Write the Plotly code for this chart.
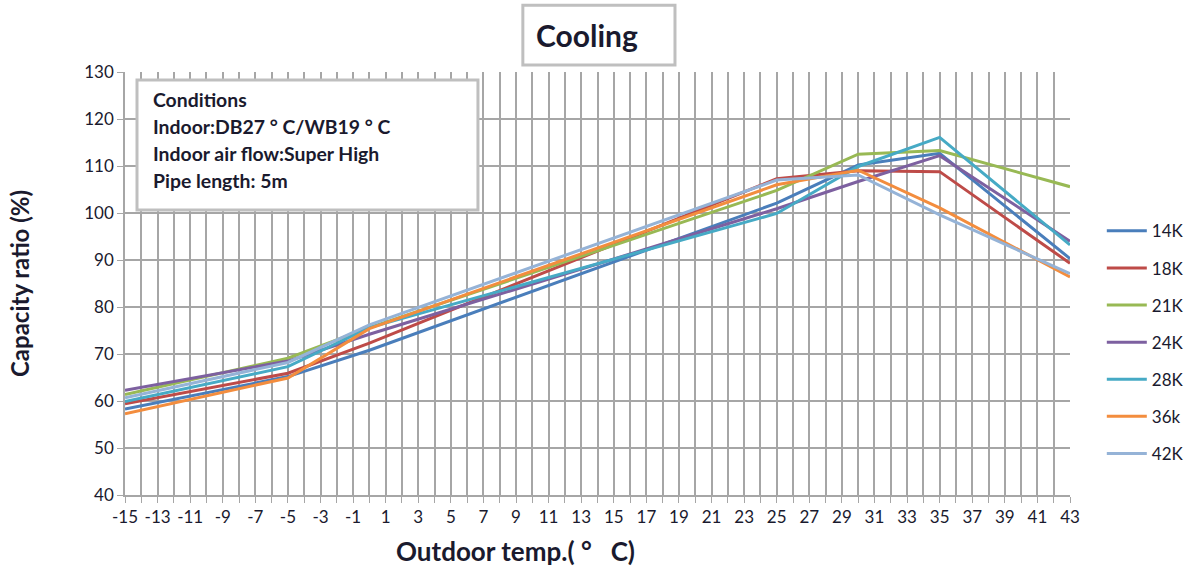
import plotly.graph_objects as go

# outdoor temperature points (deg C)
temps = [-15, -5, 0, 25, 30, 35, 43]

# capacity ratio (%) per model
cap_14k = [58.3, 65.2, 70.8, 102.1, 110.2, 112.7, 90.3]
cap_18k = [59.4, 65.9, 72.3, 107.3, 109.0, 108.8, 89.3]
cap_21k = [61.4, 69.1, 75.6, 104.8, 112.5, 113.3, 105.6]
cap_24k = [62.3, 68.5, 74.2, 100.9, 106.7, 112.2, 94.0]
cap_28k = [59.9, 67.3, 75.6, 99.9, 109.9, 116.1, 93.2]
cap_36k = [57.3, 64.9, 75.4, 106.0, 109.1, 101.1, 86.4]
cap_42k = [60.7, 68.2, 76.2, 107.0, 108.1, 99.6, 87.1]

series = [
    ("14K", cap_14k, "#4A7EBB"),
    ("18K", cap_18k, "#BE4B48"),
    ("21K", cap_21k, "#98B954"),
    ("24K", cap_24k, "#7D60A0"),
    ("28K", cap_28k, "#46AAC5"),
    ("36k", cap_36k, "#F38D3E"),
    ("42K", cap_42k, "#95B3D7"),
]

# x tick labels (plain hyphen minus like the original)
x_ticks = list(range(-15, 44, 2))
x_labels = [str(t) for t in x_ticks]

condition_lines = [
    "Conditions",
    "Indoor:DB27 \u00b0 C/WB19 \u00b0 C",
    "Indoor air flow:Super High",
    "Pipe length: 5m",
]

FONT = "Lato, Open Sans, sans-serif"
GRID = "#a6a6a6"
BOX = "#bfbfbf"
TXT = "#1a1a2e"
NB = "\u00a0"

fig = go.Figure()
for i, (name, vals, color) in enumerate(series):
    fig.add_trace(go.Scatter(
        x=temps, y=vals, name=name, mode="lines",
        line=dict(color=color, width=3),
        legendgroup=f"g{i}",
    ))

fig.update_layout(
    width=1190, height=568,
    margin=dict(l=125, r=120, t=72, b=73),
    paper_bgcolor="white",
    plot_bgcolor="white",
    font=dict(family=FONT, color=TXT, size=17),
    showlegend=True,
    legend=dict(
        xref="container", x=0.999, y=0.666, xanchor="right", yanchor="top",
        traceorder="grouped", tracegroupgap=12,
        font=dict(size=17, color=TXT),
        itemwidth=40,
    ),
    xaxis=dict(
        range=[-15, 43], tickvals=x_ticks, ticktext=x_labels,
        showgrid=True, gridcolor=GRID, gridwidth=1.5,
        ticks="outside", ticklen=6, tickcolor=GRID,
        showline=True, linecolor=GRID, linewidth=1.5,
        zeroline=False,
        minor=dict(dtick=1, tick0=-15, showgrid=True, gridcolor=GRID, gridwidth=1.5,
                   ticks="outside", ticklen=6, tickcolor=GRID),
        tickfont=dict(size=17),
    ),
    yaxis=dict(
        range=[40, 130], dtick=10,
        showgrid=True, gridcolor=GRID, gridwidth=1.5,
        ticks="outside", ticklen=6, tickcolor=GRID,
        showline=True, linecolor=GRID, linewidth=1.5,
        zeroline=False,
        tickfont=dict(size=17),
        title=dict(text="<b>Capacity ratio (%)</b>", font=dict(size=24), standoff=48),
    ),
)

# x axis title, placed left of centre as in the original
fig.add_annotation(
    text=f"<b>Outdoor temp.({NB}\u00b0{NB}{NB}{NB}C)</b>", xref="paper", yref="paper",
    x=0.413, y=-0.132, xanchor="center", yanchor="middle",
    showarrow=False, font=dict(size=26, color=TXT),
)

# title box
fig.add_shape(
    type="rect", xref="paper", yref="paper",
    x0=0.421, x1=0.582, y0=1.0165, y1=1.158,
    line=dict(color=BOX, width=3), fillcolor="white",
)
fig.add_annotation(
    text="<b>Cooling</b>", xref="paper", yref="paper",
    x=0.489, y=1.0875, xanchor="center", yanchor="middle",
    showarrow=False, font=dict(size=30, color=TXT),
)

# conditions box
fig.add_shape(
    type="rect", xref="paper", yref="paper",
    x0=0.0127, x1=0.3735, y0=0.674, y1=0.981,
    line=dict(color=BOX, width=3), fillcolor="white", layer="above",
)
for k, txt in enumerate(condition_lines):
    fig.add_annotation(
        text=f"<b>{txt}</b>", xref="paper", yref="paper",
        x=0.027, y=0.934 - k * 0.0638, xanchor="left", yanchor="middle",
        showarrow=False, font=dict(size=19.4, color=TXT),
    )

fig.write_html(
    "out.html",
    config={"displayModeBar": False},
    post_script="document.body.style.margin='0';document.body.style.overflow='hidden';",
)
